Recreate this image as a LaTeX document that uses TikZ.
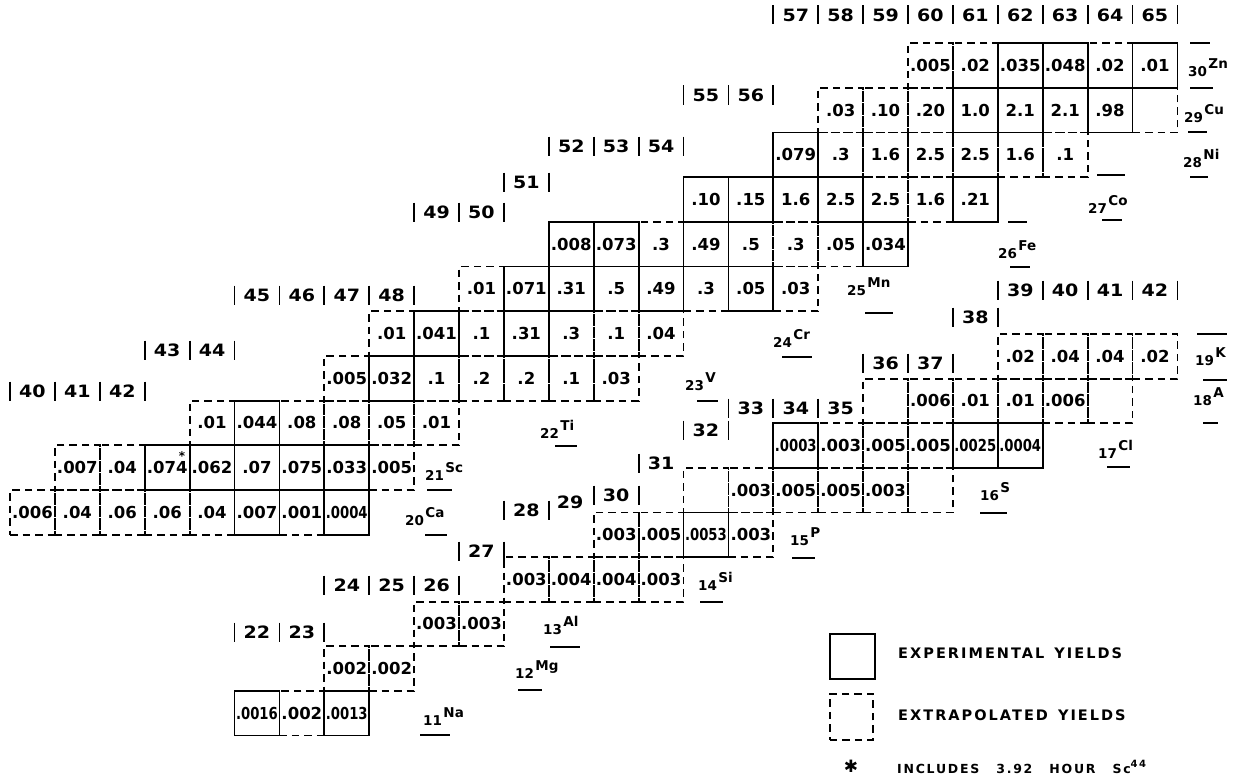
\documentclass[tikz,border=0pt]{standalone}
\usepackage{fontspec}
\setmainfont{DejaVu Sans}
\newfontfamily\legfont{DejaVu Sans}[LetterSpace=14]
\usepackage{graphicx}
\newcommand{\sq}[1]{\scalebox{0.8}[1]{#1}}
\newcommand{\wide}[1]{\scalebox{1.12}[1]{#1}}
\newcommand{\valsize}{\fontsize{16.5}{17}\selectfont\bfseries}
\newcommand{\msize}{\fontsize{17}{17}\selectfont\bfseries}
\newcommand{\mrow}[4]{%
  \foreach \a in {#3} \node[mnum] (m#1-\a) at ({10+(\a-#1)*44.9+22.45},#2) {\wide{\a}};
  \foreach \a in {#4} \draw[bar] ({10+(\a-#1)*44.9},{#2-9.5}) -- ({10+(\a-#1)*44.9},{#2+9.5});
}
\begin{document}
\begin{tikzpicture}[x=1pt,y=-1pt,
  cellbase/.style={minimum width=44.9pt,minimum height=44.7pt,inner sep=0pt,outer sep=0pt,anchor=north west,font=\valsize,line width=1.8pt},
  expcell/.style={cellbase,draw},
  extcell/.style={cellbase,draw,dash pattern=on 7.5pt off 5pt},
  bar/.style={line width=1.8pt},
  mnum/.style={font=\msize,inner sep=0pt},
  zlab/.style={font=\fontsize{13.5}{14}\selectfont\bfseries,inner sep=0pt,anchor=base west},
  uline/.style={line width=1.8pt}]
\useasboundingbox (0,0) rectangle (1235,776);

% ---------- upper group: extrapolated ----------
\foreach \z/\a/\v in {
  30/60/.005, 30/61/.02, 30/64/.02,
  29/58/.03, 29/59/.10, 29/60/.20, 29/63/2.1, 29/65/{},
  28/58/.3, 28/59/1.6, 28/60/2.5, 28/61/2.5, 28/62/1.6, 28/63/.1,
  27/57/1.6, 27/59/2.5, 27/60/1.6,
  26/54/.3, 26/56/.5, 26/57/.3, 26/58/.05,
  25/50/.01, 25/53/.5, 25/55/.3, 25/57/.03,
  24/48/.01, 24/50/.1, 24/52/.3, 24/53/.1, 24/54/.04,
  23/47/.005, 23/49/.1, 23/50/.2, 23/51/.2, 23/52/.1, 23/53/.03,
  22/44/.01, 22/46/.08, 22/47/.08, 22/48/.05, 22/49/.01,
  21/41/.007, 21/42/.04, 21/45/.07, 21/48/.005,
  20/40/.006, 20/41/.04, 20/42/.06, 20/43/.06, 20/44/.04, 20/46/.001}
  \node[extcell] (u\z-\a) at ({10+(\a-40)*44.9},{43+(30-\z)*44.7}) {\v};

% ---------- lower group: extrapolated ----------
\foreach \z/\a/\v in {
  19/39/.02, 19/40/.04, 19/41/.04, 19/42/.02,
  18/36/{}, 18/37/.006, 18/38/.01, 18/39/.01, 18/40/.006, 18/41/{},
  17/35/.003, 17/36/.005, 17/37/.005,
  16/32/{}, 16/33/.003, 16/34/.005, 16/35/.005, 16/36/.003, 16/37/{},
  15/30/.003, 15/31/.005, 15/33/.003,
  14/28/.003, 14/29/.004, 14/30/.004, 14/31/.003,
  13/26/.003, 13/27/.003,
  12/24/.002, 12/25/.002,
  11/23/.002}
  \node[extcell] (l\z-\a) at ({10+(\a-17)*44.9},{334+(19-\z)*44.6}) {\v};

% ---------- upper group: experimental ----------
\foreach \z/\a/\v in {
  30/62/.035, 30/63/.048, 30/65/.01,
  29/61/1.0, 29/62/2.1, 29/64/.98,
  28/57/.079,
  27/55/.10, 27/56/.15, 27/58/2.5, 27/61/.21,
  26/52/.008, 26/53/.073, 26/55/.49, 26/59/.034,
  25/51/.071, 25/52/.31, 25/54/.49, 25/56/.05,
  24/49/.041, 24/51/.31,
  23/48/.032,
  22/45/.044,
  21/43/.074, 21/44/.062, 21/46/.075, 21/47/.033,
  20/45/.007, 20/47/\sq{.0004}}
  \node[expcell] (u\z-\a) at ({10+(\a-40)*44.9},{43+(30-\z)*44.7}) {\v};

% ---------- lower group: experimental ----------
\foreach \z/\a/\v in {
  17/34/\sq{.0003}, 17/38/\sq{.0025}, 17/39/\sq{.0004},
  15/32/\sq{.0053},
  11/22/\sq{.0016}, 11/24/\sq{.0013}}
  \node[expcell] (l\z-\a) at ({10+(\a-17)*44.9},{334+(19-\z)*44.6}) {\v};

\node[font=\fontsize{12}{12}\selectfont\bfseries,inner sep=0pt] (star) at (182,456) {*};

% ---------- mass numbers ----------
\mrow{40}{391}{40,41,42}{40,41,42,43}
\mrow{40}{350}{43,44}{43,44,45}
\mrow{40}{295}{45,46,47,48}{45,46,47,48,49}
\mrow{40}{212}{49,50}{49,50,51}
\mrow{40}{182}{51}{51,52}
\mrow{40}{146}{52,53,54}{52,53,54,55}
\mrow{40}{95}{55,56}{55,56,57}
\mrow{40}{15}{57,58,59,60,61,62,63,64,65}{57,58,59,60,61,62,63,64,65,66}

\mrow{17}{632}{22,23}{22,23,24}
\mrow{17}{585}{24,25,26}{24,25,26,27}
\mrow{17}{551}{27}{27,28}
\mrow{17}{510}{28}{28,29}
\node[mnum] (m17-29) at (570,502) {\wide{29}};
\mrow{17}{495}{30}{30,31}
\mrow{17}{463}{31}{31}
\mrow{17}{430}{32}{32,33}
\mrow{17}{408}{33,34,35}{33,34,35}
\mrow{17}{363}{36,37}{36,37,38}
\mrow{17}{317}{38}{38,39}
\mrow{17}{290}{39,40,41,42}{39,40,41,42,43}

% ---------- element labels ----------
\newcommand{\sym}[1]{\hspace{1.5pt}\raisebox{8pt}{#1}}
\node[zlab] (eZn) at (1188,77) {30\sym{Zn}};
\node[zlab] (eCu) at (1184,122) {29\sym{Cu}};
\node[zlab] (eNi) at (1183,167) {28\sym{Ni}};
\node[zlab] (eCo) at (1088,213) {27\sym{Co}};
\node[zlab] (eFe) at (998,258) {26\sym{Fe}};
\node[zlab] (eMn) at (847,295) {25\sym{Mn}};
\node[zlab] (eCr) at (773,347) {24\sym{Cr}};
\node[zlab] (eV) at (685,390) {23\sym{V}};
\node[zlab] (eTi) at (540,438) {22\sym{Ti}};
\node[zlab] (eSc) at (425,480) {21\sym{Sc}};
\node[zlab] (eCa) at (405,525) {20\sym{Ca}};
\node[zlab] (eK) at (1195,365) {19\sym{K}};
\node[zlab] (eA) at (1193,405) {18\sym{A}};
\node[zlab] (eCl) at (1098,458) {17\sym{Cl}};
\node[zlab] (eS) at (980,500) {16\sym{S}};
\node[zlab] (eP) at (790,545) {15\sym{P}};
\node[zlab] (eSi) at (698,590) {14\sym{Si}};
\node[zlab] (eAl) at (543,634) {13\sym{Al}};
\node[zlab] (eMg) at (515,678) {12\sym{Mg}};
\node[zlab] (eNa) at (423,725) {11\sym{Na}};

\foreach \xa/\xb/\yy in {1190/1210/43, 1190/1213/88, 1188/1207/132, 1190/1208/177,
  1097/1125/175, 1102/1122/220, 1008/1027/222, 1010/1030/267, 865/893/313,
  782/812/357, 697/718/401, 555/577/446, 427/452/490, 425/447/535,
  1197/1227/334, 1203/1227/380, 1203/1218/423, 1107/1130/467, 980/1007/513,
  792/815/558, 700/723/602, 550/580/647, 518/542/690, 420/450/735}
  \draw[uline] (\xa,\yy) -- (\xb,\yy);

% ---------- legend ----------
\node[draw,line width=1.8pt,minimum width=45pt,minimum height=45pt,inner sep=0pt,anchor=north west] (legE) at (829,633) {};
\node[draw,line width=1.8pt,dash pattern=on 7.5pt off 5pt,minimum width=43pt,minimum height=46pt,inner sep=0pt,anchor=north west] (legX) at (829,693) {};
\node[anchor=west,inner sep=0pt] (legEt) at (898,653) {\legfont\fontsize{14.5}{15}\selectfont\bfseries EXPERIMENTAL\hspace{10pt}YIELDS};
\node[anchor=west,inner sep=0pt] (legXt) at (898,715) {\legfont\fontsize{14.5}{15}\selectfont\bfseries EXTRAPOLATED\hspace{10pt}YIELDS};
\node[inner sep=0pt,font=\fontsize{17}{17}\selectfont] (legS) at (851,766) {✱};
\node[anchor=west,inner sep=0pt] (legN) at (897,767) {\legfont\fontsize{12.5}{13}\selectfont\bfseries INCLUDES\hspace{17pt}3.92\hspace{17pt}HOUR\hspace{17pt}Sc\raisebox{6pt}{\fontsize{10}{10}\selectfont 44}};
\end{tikzpicture}
\end{document}
